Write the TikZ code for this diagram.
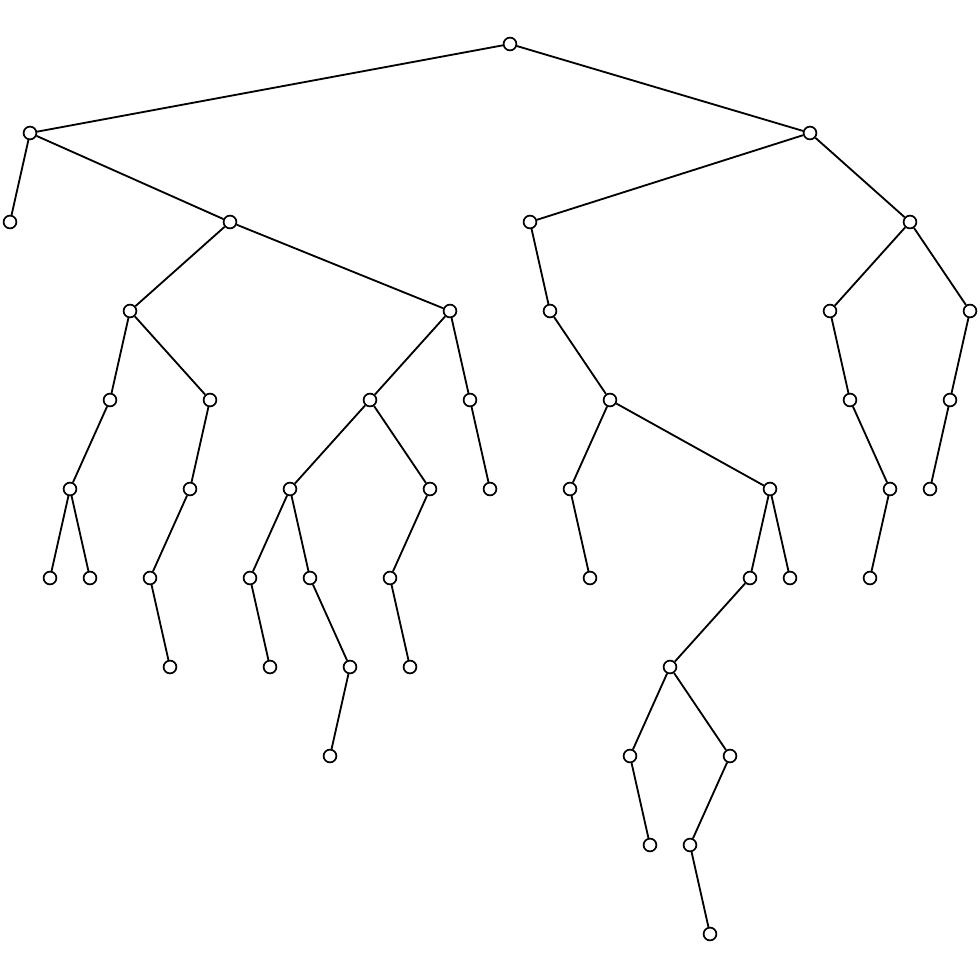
\documentclass[tikz,border=0pt]{standalone}
\usepackage{tikz}

\begin{document}
\begin{tikzpicture}[x=0.5cm, y=-2.225cm,
    vert/.style={circle, draw, fill=white, inner sep=0pt, minimum size=0.32cm, line width=1.2pt}]
      \useasboundingbox (-0.5,-0.4944) rectangle (48.5,10.5169);
      % nodes: name = left-to-right index / depth
      \foreach \i/\d in {0/2,1/1,2/6,3/5,4/6,5/4,6/3,7/6,8/7,9/5,10/4,11/2,12/6,13/7,14/5,15/6,
          16/8,17/7,18/4,19/6,20/7,21/5,22/3,23/4,24/5,25/0,26/2,27/3,28/5,29/6,30/4,31/8,
          32/9,33/7,34/9,35/10,36/8,37/6,38/5,39/6,40/1,41/3,42/4,43/6,44/5,45/2,46/5,47/4,48/3}{
        \node[vert] (\i) at (\i, \d) {}; }
      \foreach \p/\c in {25/1,25/40,1/0,1/11,40/26,40/45,11/6,11/22,26/27,45/41,45/48,
          6/5,6/10,22/18,22/23,27/30,41/42,48/47,5/3,10/9,18/14,18/21,23/24,30/28,30/38,
          42/44,47/46,3/2,3/4,9/7,14/12,14/15,21/19,28/29,38/37,38/39,44/43,7/8,12/13,
          15/17,19/20,37/33,17/16,33/31,33/36,31/32,36/34,34/35}{
        \draw[line width=1.3pt] (\p) -- (\c); }
    \end{tikzpicture}
\end{document}
